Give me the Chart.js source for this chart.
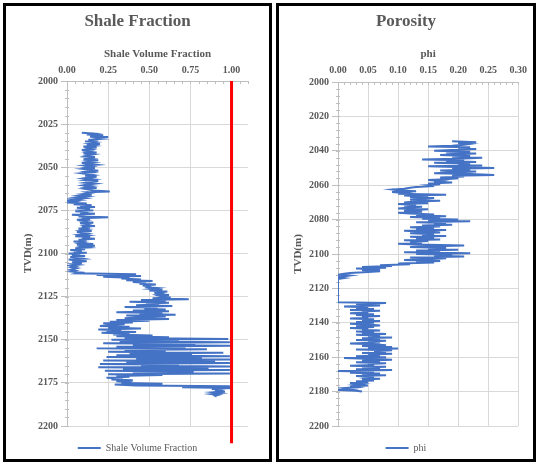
<!DOCTYPE html>
<html>
<head>
<meta charset="utf-8">
<script src="https://cdn.jsdelivr.net/npm/chart.js@4.4.1/dist/chart.umd.min.js"></script>
<style>
  body { margin: 0; background: #fff; }
  .panel { position: absolute; top: 3px; height: 459px; border: 3px solid #000; box-sizing: border-box; overflow: hidden; background: #fff; }
  #p1 { left: 3px; width: 269px; }
  #p2 { left: 276px; width: 260px; }
  canvas { position: absolute; left: 0; top: 0; }
</style>
</head>
<body>
<div class="panel" id="p1"><canvas id="shale" width="263" height="457"></canvas></div>
<div class="panel" id="p2"><canvas id="phi" width="254" height="457"></canvas></div>
<script>
// depth (m) and shale volume fraction, 0.5 m samples
const shaleDepth = [
  2030,2030.5,2031,2031.5,2032,2032.5,2033,2033.5,2034,2034.5,
  2035,2035.5,2036,2036.5,2037,2037.5,2038,2038.5,2039,2039.5,
  2040,2040.5,2041,2041.5,2042,2042.5,2043,2043.5,2044,2044.5,
  2045,2045.5,2046,2046.5,2047,2047.5,2048,2048.5,2049,2049.5,
  2050,2050.5,2051,2051.5,2052,2052.5,2053,2053.5,2054,2054.5,
  2055,2055.5,2056,2056.5,2057,2057.5,2058,2058.5,2059,2059.5,
  2060,2060.5,2061,2061.5,2062,2062.5,2063,2063.5,2064,2064.5,
  2065,2065.5,2066,2066.5,2067,2067.5,2068,2068.5,2069,2069.5,
  2070,2070.5,2071,2071.5,2072,2072.5,2073,2073.5,2074,2074.5,
  2075,2075.5,2076,2076.5,2077,2077.5,2078,2078.5,2079,2079.5,
  2080,2080.5,2081,2081.5,2082,2082.5,2083,2083.5,2084,2084.5,
  2085,2085.5,2086,2086.5,2087,2087.5,2088,2088.5,2089,2089.5,
  2090,2090.5,2091,2091.5,2092,2092.5,2093,2093.5,2094,2094.5,
  2095,2095.5,2096,2096.5,2097,2097.5,2098,2098.5,2099,2099.5,
  2100,2100.5,2101,2101.5,2102,2102.5,2103,2103.5,2104,2104.5,
  2105,2105.5,2106,2106.5,2107,2107.5,2108,2108.5,2109,2109.5,
  2110,2110.5,2111,2111.5,2112,2112.5,2113,2113.5,2114,2114.5,
  2115,2115.5,2116,2116.5,2117,2117.5,2118,2118.5,2119,2119.5,
  2120,2120.5,2121,2121.5,2122,2122.5,2123,2123.5,2124,2124.5,
  2125,2125.5,2126,2126.5,2127,2127.5,2128,2128.5,2129,2129.5,
  2130,2130.5,2131,2131.5,2132,2132.5,2133,2133.5,2134,2134.5,
  2135,2135.5,2136,2136.5,2137,2137.5,2138,2138.5,2139,2139.5,
  2140,2140.5,2141,2141.5,2142,2142.5,2143,2143.5,2144,2144.5,
  2145,2145.5,2146,2146.5,2147,2147.5,2148,2148.5,2149,2149.5,
  2150,2150.5,2151,2151.5,2152,2152.5,2153,2153.5,2154,2154.5,
  2155,2155.5,2156,2156.5,2157,2157.5,2158,2158.5,2159,2159.5,
  2160,2160.5,2161,2161.5,2162,2162.5,2163,2163.5,2164,2164.5,
  2165,2165.5,2166,2166.5,2167,2167.5,2168,2168.5,2169,2169.5,
  2170,2170.5,2171,2171.5,2172,2172.5,2173,2173.5,2174,2174.5,
  2175,2175.5,2176,2176.5,2177,2177.5,2178,2178.5,2179,2179.5,
  2180,2180.5,2181,2181.5,2182,2182.5,2183
];
const shaleVsh = [
  0.09,0.16,0.12,0.22,0.14,0.25,0.18,0.21,0.13,0.19,
  0.11,0.17,0.14,0.20,0.12,0.16,0.10,0.18,0.13,0.15,
  0.09,0.14,0.12,0.18,0.10,0.16,0.13,0.11,0.17,0.12,
  0.15,0.10,0.19,0.13,0.16,0.09,0.14,0.18,0.11,0.15,
  0.12,0.17,0.10,0.14,0.19,0.12,0.15,0.09,0.13,0.16,
  0.11,0.18,0.13,0.10,0.16,0.12,0.19,0.14,0.11,0.17,
  0.13,0.10,0.15,0.12,0.18,0.11,0.14,0.16,0.26,0.12,
  0.14,0.10,0.15,0.08,0.12,0.06,0.10,0.03,0.07,0.01,
  0.05,0.02,0.12,0.04,0.15,0.08,0.17,0.06,0.14,0.10,
  0.16,0.05,0.13,0.08,0.17,0.03,0.11,0.07,0.25,0.09,
  0.14,0.06,0.12,0.10,0.16,0.08,0.13,0.11,0.17,0.09,
  0.14,0.07,0.12,0.09,0.15,0.06,0.11,0.13,0.08,0.12,
  0.05,0.14,0.09,0.17,0.07,0.12,0.04,0.10,0.08,0.16,
  0.06,0.17,0.10,0.13,0.05,0.11,0.02,0.09,0.04,0.12,
  0.01,0.08,0.03,0.11,0.02,0.07,0.10,0.01,0.06,0.12,
  0.03,0.09,0.04,0.07,0.02,0.05,0.03,0.06,0.04,0.02,
  0.05,0.03,0.08,0.06,0.42,0.18,0.45,0.22,0.38,0.33,
  0.45,0.36,0.52,0.40,0.48,0.44,0.54,0.46,0.50,0.49,
  0.55,0.51,0.58,0.50,0.61,0.53,0.57,0.55,0.62,0.56,
  0.58,0.63,0.52,0.74,0.45,0.60,0.38,0.62,0.48,0.56,
  0.42,0.64,0.35,0.55,0.47,0.60,0.40,0.62,0.30,0.58,
  0.44,0.66,0.36,0.60,0.48,0.35,0.62,0.30,0.50,0.26,
  0.40,0.22,0.35,0.28,0.20,0.38,0.25,0.45,0.19,0.33,
  0.24,0.42,0.21,0.38,0.28,0.52,0.30,0.62,0.35,0.98,
  0.27,0.68,0.32,0.99,0.22,0.78,0.40,1.00,0.30,0.72,
  0.18,0.85,0.35,0.60,0.25,0.95,0.38,0.76,0.30,0.99,
  0.24,0.82,0.42,1.00,0.22,0.90,0.36,0.99,0.20,0.68,
  0.45,1.00,0.19,0.86,0.34,0.99,0.23,0.77,0.40,0.99,
  0.25,0.58,0.30,0.38,0.24,0.34,0.27,0.40,0.30,0.36,
  0.33,0.58,0.29,0.42,0.99,0.70,1.00,0.88,0.95,0.90,
  0.96,0.89,0.93,0.88,0.92,0.90,0.91
];
// red cutoff line
const cutoffVsh = 1.0;
const cutoffDepth = [2000, 2210];

// depth (m) and porosity
const phiDepth = [
  2034.5,
  2035,2035.5,2036,2036.5,2037,2037.5,2038,2038.5,2039,2039.5,
  2040,2040.5,2041,2041.5,2042,2042.5,2043,2043.5,2044,2044.5,
  2045,2045.5,2046,2046.5,2047,2047.5,2048,2048.5,2049,2049.5,
  2050,2050.5,2051,2051.5,2052,2052.5,2053,2053.5,2054,2054.5,
  2055,2055.5,2056,2056.5,2057,2057.5,2058,2058.5,2059,2059.5,
  2060,2060.5,2061,2061.5,2062,2062.5,2063,2063.5,2064,2064.5,
  2065,2065.5,2066,2066.5,2067,2067.5,2068,2068.5,2069,2069.5,
  2070,2070.5,2071,2071.5,2072,2072.5,2073,2073.5,2074,2074.5,
  2075,2075.5,2076,2076.5,2077,2077.5,2078,2078.5,2079,2079.5,
  2080,2080.5,2081,2081.5,2082,2082.5,2083,2083.5,2084,2084.5,
  2085,2085.5,2086,2086.5,2087,2087.5,2088,2088.5,2089,2089.5,
  2090,2090.5,2091,2091.5,2092,2092.5,2093,2093.5,2094,2094.5,
  2095,2095.5,2096,2096.5,2097,2097.5,2098,2098.5,2099,2099.5,
  2100,2100.5,2101,2101.5,2102,2102.5,2103,2103.5,2104,2104.5,
  2105,2105.5,2106,2106.5,2107,2107.5,2108,2108.5,2109,2109.5,
  2110,2110.5,2111,2111.5,2112,2112.5,2113,2113.5,2114,2114.5,
  2115,2115.5,2116,2116.5,2117,2117.5,2118,2118.5,2119,2119.5,
  2120,2120.5,2121,2121.5,2122,2122.5,2123,2123.5,2124,2124.5,
  2125,2125.5,2126,2126.5,2127,2127.5,2128,2128.5,2129,2129.5,
  2130,2130.5,2131,2131.5,2132,2132.5,2133,2133.5,2134,2134.5,
  2135,2135.5,2136,2136.5,2137,2137.5,2138,2138.5,2139,2139.5,
  2140,2140.5,2141,2141.5,2142,2142.5,2143,2143.5,2144,2144.5,
  2145,2145.5,2146,2146.5,2147,2147.5,2148,2148.5,2149,2149.5,
  2150,2150.5,2151,2151.5,2152,2152.5,2153,2153.5,2154,2154.5,
  2155,2155.5,2156,2156.5,2157,2157.5,2158,2158.5,2159,2159.5,
  2160,2160.5,2161,2161.5,2162,2162.5,2163,2163.5,2164,2164.5,
  2165,2165.5,2166,2166.5,2167,2167.5,2168,2168.5,2169,2169.5,
  2170,2170.5,2171,2171.5,2172,2172.5,2173,2173.5,2174,2174.5,
  2175,2175.5,2176,2176.5,2177,2177.5,2178,2178.5,2179,2179.5,
  2180
];
const phiValues = [
  0.19,
  0.23,0.20,0.22,0.21,0.19,0.15,0.22,0.20,0.23,0.19,
  0.16,0.22,0.18,0.23,0.20,0.17,0.22,0.19,0.24,0.21,
  0.14,0.21,0.18,0.23,0.16,0.22,0.20,0.24,0.15,0.21,
  0.26,0.19,0.22,0.17,0.23,0.20,0.16,0.22,0.26,0.19,
  0.21,0.17,0.20,0.18,0.15,0.17,0.16,0.19,0.15,0.17,
  0.15,0.16,0.13,0.12,0.11,0.09,0.10,0.13,0.09,0.11,
  0.10,0.18,0.11,0.15,0.12,0.16,0.14,0.12,0.17,0.13,
  0.11,0.15,0.10,0.13,0.11,0.14,0.12,0.10,0.15,0.12,
  0.11,0.14,0.10,0.12,0.16,0.13,0.18,0.12,0.17,0.14,
  0.20,0.15,0.22,0.13,0.18,0.16,0.19,0.14,0.17,0.12,
  0.16,0.13,0.18,0.11,0.15,0.17,0.12,0.16,0.14,0.18,
  0.12,0.16,0.13,0.17,0.11,0.15,0.12,0.14,0.10,0.13,
  0.21,0.16,0.12,0.18,0.15,0.20,0.13,0.17,0.11,0.22,
  0.13,0.19,0.16,0.21,0.12,0.18,0.15,0.11,0.17,0.13,
  0.16,0.10,0.12,0.07,0.09,0.04,0.08,0.03,0.07,0.04,
  0.07,0.05,0.02,0.01,0.00,0.02,0.01,0.00,0.01,0.00,
  0.00,0.00,0.00,0.00,0.00,0.00,0.00,0.00,0.00,0.00,
  0.00,0.00,0.00,0.00,0.00,0.00,0.00,0.00,0.00,0.00,
  0.00,0.00,0.00,0.00,0.00,0.00,0.00,0.08,0.03,0.06,
  0.07,0.01,0.05,0.03,0.06,0.02,0.07,0.04,0.05,0.02,
  0.06,0.03,0.07,0.04,0.05,0.02,0.06,0.04,0.07,0.03,
  0.06,0.02,0.05,0.07,0.03,0.06,0.02,0.05,0.04,0.07,
  0.03,0.06,0.04,0.08,0.03,0.07,0.05,0.09,0.04,0.07,
  0.03,0.08,0.05,0.07,0.02,0.06,0.08,0.04,0.09,0.05,
  0.10,0.03,0.09,0.06,0.08,0.04,0.09,0.05,0.07,0.03,
  0.08,0.01,0.06,0.09,0.04,0.07,0.03,0.08,0.05,0.06,
  0.02,0.08,0.04,0.07,0.03,0.09,0.00,0.06,0.02,0.07,
  0.04,0.08,0.03,0.06,0.05,0.07,0.04,0.06,0.03,0.05,
  0.02,0.04,0.03,0.05,0.02,0.03,0.01,0.02,0.00,0.03,
  0.04
];

Chart.defaults.font.family = "'Liberation Serif', 'Times New Roman', serif";
Chart.defaults.color = '#595959';

const GRID = '#d9d9d9';
const AXIS = '#bfbfbf';
const BLUE = '#4472c4';

// small minor tick marks along the top and left axis lines
const minorTicks = {
  id: 'minorTicks',
  beforeDatasetsDraw(chart, args, opts) {
    const { ctx, chartArea, scales: { x, y } } = chart;
    ctx.save();
    ctx.strokeStyle = AXIS;
    ctx.lineWidth = 1;
    ctx.beginPath();
    for (let v = x.min; v <= x.max + 1e-9; v += opts.x) {
      const px = Math.round(x.getPixelForValue(v)) + 0.5;
      ctx.moveTo(px, chartArea.top);
      ctx.lineTo(px, chartArea.top + 3);
    }
    for (let v = y.min; v <= y.max + 1e-9; v += opts.y) {
      const py = Math.round(y.getPixelForValue(v)) + 0.5;
      ctx.moveTo(chartArea.left - 2, py);
      ctx.lineTo(chartArea.left + 2, py);
    }
    ctx.stroke();
    ctx.restore();
  }
};

function makeTrack(id, cfg) {
  return new Chart(document.getElementById(id), {
    type: 'scatter',
    data: { datasets: cfg.datasets },
    plugins: [minorTicks],
    options: {
      responsive: false,
      animation: false,
      layout: { padding: 0 },
      plugins: {
        title: { display: true, text: cfg.title, color: '#595959', font: { size: 17, weight: 'bold' }, padding: { top: 5.8, bottom: 0 } },
        legend: {
          position: 'bottom',
          labels: {
            filter: item => item.text !== 'cutoff',
            usePointStyle: true, pointStyle: 'line', pointStyleWidth: 23,
            padding: 17, color: '#595959', font: { size: 10 }
          }
        },
        tooltip: { enabled: false },
        minorTicks: { x: cfg.minorX, y: cfg.minorY }
      },
      scales: {
        x: {
          type: 'linear', position: 'top', min: 0, max: cfg.xMax,
          afterFit: s => { s.height = cfg.xHeight; },
          ticks: { stepSize: cfg.xStep, includeBounds: false, padding: cfg.xPad, maxRotation: 0,
                   font: { size: 10, weight: 'bold' }, callback: v => v.toFixed(2) },
          grid: { color: GRID, drawTicks: false },
          border: { color: AXIS },
          title: { display: true, text: cfg.xTitle, font: { size: 11, weight: 'bold' }, padding: { top: 15.2, bottom: 0 } }
        },
        y: {
          reverse: true, min: 2000, max: 2200,
          afterFit: s => { s.width = cfg.yWidth; },
          ticks: { stepSize: cfg.yStep, padding: 3, font: { size: 10, weight: 'bold' }, callback: v => String(v) },
          grid: { color: GRID, tickLength: 6, tickColor: AXIS },
          border: { color: AXIS },
          title: { display: true, text: 'TVD(m)', font: { size: 11, weight: 'bold' }, padding: { top: cfg.yTitlePad, bottom: 0 } }
        },
        // empty right-hand strip so the title and legend stay centred on the whole panel
        gap: {
          type: 'linear', position: 'right', display: true,
          afterFit: s => { s.width = cfg.padRight; },
          ticks: { display: false }, grid: { display: false }, border: { display: false }
        }
      }
    }
  });
}

makeTrack('shale', {
  title: 'Shale Fraction', xTitle: 'Shale Volume Fraction',
  xMax: 1.1, xStep: 0.25, minorX: 0.05, yStep: 25, minorY: 5,
  padRight: 21, xHeight: 48.8, xPad: 5, yWidth: 61, yTitlePad: 15.4,
  datasets: [
    { label: 'cutoff', data: cutoffDepth.map(d => ({ x: cutoffVsh, y: d })), showLine: true,
      borderColor: '#ff0000', borderWidth: 3, pointRadius: 0, clip: false },
    { label: 'Shale Volume Fraction', data: shaleDepth.map((d, i) => ({ x: shaleVsh[i], y: d })), showLine: true,
      borderColor: BLUE, backgroundColor: BLUE, borderWidth: 2, pointRadius: 0, tension: 0 }
  ]
});

makeTrack('phi', {
  title: 'Porosity', xTitle: 'phi',
  xMax: 0.3, xStep: 0.05, minorX: 0.01, yStep: 20, minorY: 4,
  padRight: 12, xHeight: 49.8, xPad: 6, yWidth: 59, yTitlePad: 12.9,
  datasets: [
    { label: 'phi', data: phiDepth.map((d, i) => ({ x: phiValues[i], y: d })), showLine: true,
      borderColor: BLUE, backgroundColor: BLUE, borderWidth: 2, pointRadius: 0, tension: 0 }
  ]
});
</script>
</body>
</html>
